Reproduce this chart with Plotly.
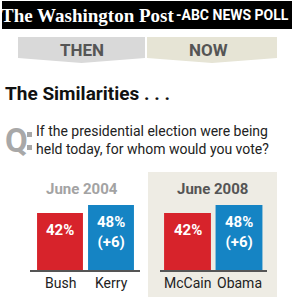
import plotly.graph_objects as go

W, H = 295, 305

# ---- data ----
periods = ["June 2004", "June 2008"]
cands_2004 = ["Bush", "Kerry"]
vals_2004 = [42, 48]
cands_2008 = ["McCain", "Obama"]
vals_2008 = [42, 48]
bar_colors = ["#d7232b", "#1584c4"]

title_text = "The Similarities . . ."
question_lines = ["If the presidential election were being", "held today, for whom would you vote?"]
tab_labels = ["THEN", "NOW"]

NARROW = "Roboto, Liberation Sans, sans-serif"


def px(x):
    return x / W


def py(y):
    return 1 - y / H


fig = go.Figure()
shapes = []
annotations = []


def rect(x0, y0, x1, y1, color, line=None):
    shapes.append(dict(type="rect", xref="paper", yref="paper",
                       x0=px(x0), x1=px(x1), y0=py(y1), y1=py(y0),
                       fillcolor=color, line=dict(width=0) if line is None else line,
                       layer="below"))


def path(points, color):
    d = "M " + " L ".join(f"{px(x):.5f},{py(y):.5f}" for x, y in points) + " Z"
    shapes.append(dict(type="path", xref="paper", yref="paper", path=d,
                       fillcolor=color, line=dict(width=0), layer="below"))


def text(x, y, s, size, color, family=NARROW, xanchor="center", yanchor="middle", bold=False,
         align="center"):
    if bold:
        s = "<b>" + s + "</b>"
    annotations.append(dict(x=px(x), y=py(y), xref="paper", yref="paper", text=s,
                            showarrow=False, xanchor=xanchor, yanchor=yanchor, align=align,
                            font=dict(size=size, color=color, family=family)))


# header
rect(2, 1, 292, 29, "#000000")
text(176, 15, "The Washington Post", 19, "#ffffff", family="Liberation Serif, serif",
     xanchor="right", bold=True)
text(174, 15, "-ABC NEWS POLL", 14, "#ffffff", xanchor="left", bold=True)

# tabs
path([(18, 37), (145, 37), (145, 58), (81.5, 63), (18, 58)], "#d9d9d9")
path([(147, 37), (277, 37), (277, 58), (212, 63), (147, 58)], "#e6e4d5")
text(82, 50, tab_labels[0], 17, "#555555", bold=True)
text(208, 50, tab_labels[1], 17, "#555555", bold=True)

# title & question
text(3, 94, title_text, 19, "#111111", xanchor="left", bold=True)
text(3, 140, "Q", 33, "#a8a8a8", xanchor="left", bold=True)
rect(27, 132, 32, 137, "#a8a8a8")
rect(27, 145, 32, 150, "#a8a8a8")
text(34, 140, "<br>".join(question_lines), 14, "#222222", xanchor="left", align="left")

# right panel background
rect(148, 172, 277, 297, "#eeece4")

# bar panels
panels = [
    dict(cands=cands_2004, vals=vals_2004, x0=30, x1=140, c0=60, step=51, ax="x", ay="y",
         title_color="#a3a3a3", title_x=82, width=0.9),
    dict(cands=cands_2008, vals=vals_2008, x0=160, x1=267, c0=187.5, step=51.5, ax="x2", ay="y2",
         title_color="#555555", title_x=212, width=0.91),
]
base_y, top_y, ppu = 270, 200, 1.355

for i, p in enumerate(panels):
    fig.add_trace(go.Bar(x=p["cands"], y=p["vals"], marker=dict(color=bar_colors, line=dict(width=0)),
                         width=p["width"], xaxis=p["ax"], yaxis=p["ay"], showlegend=False,
                         hoverinfo="skip"))
    lo = -(p["c0"] - p["x0"]) / p["step"]
    hi = (p["x1"] - p["c0"]) / p["step"]
    suffix = "" if i == 0 else "2"
    fig.layout["xaxis" + suffix] = dict(domain=[px(p["x0"]), px(p["x1"])], range=[lo, hi],
                                        type="category", showline=True, linecolor="#555555",
                                        linewidth=2, showgrid=False, zeroline=False,
                                        showticklabels=False, ticks="", fixedrange=True,
                                        anchor="y" + suffix)
    fig.layout["yaxis" + suffix] = dict(domain=[py(base_y), py(top_y)],
                                        range=[0, (base_y - top_y) / ppu], visible=False,
                                        fixedrange=True, anchor="x" + suffix)
    text(p["title_x"], 189, periods[i], 15, p["title_color"], bold=True)
    lead = max(p["vals"])
    for c, v in zip(p["cands"], p["vals"]):
        lab = f"{v}%"
        if v == lead and v != min(p["vals"]):
            lab += f"<br>(+{v - min(p['vals'])})"
        annotations.append(dict(x=c, y=v, xref=p["ax"], yref=p["ay"], text="<b>" + lab + "</b>",
                                showarrow=False, yanchor="top", yshift=-6, xanchor="center",
                                font=dict(size=15, color="#ffffff", family=NARROW)))
        annotations.append(dict(x=c, y=py(283), xref=p["ax"], yref="paper", text=c,
                                showarrow=False, yanchor="middle", xanchor="center",
                                font=dict(size=14, color="#222222", family=NARROW)))

fig.update_layout(width=W, height=H, margin=dict(l=0, r=0, t=0, b=0),
                  paper_bgcolor="#ffffff", plot_bgcolor="rgba(0,0,0,0)",
                  shapes=shapes, annotations=annotations, bargap=0.1)

fig.write_html("out.html", config=dict(displayModeBar=False))
